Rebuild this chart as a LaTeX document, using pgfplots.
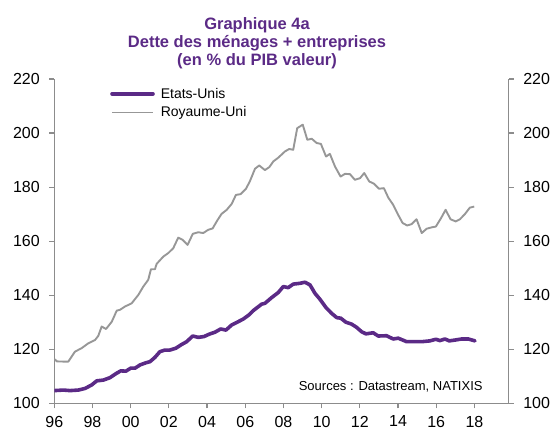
\documentclass[border=0pt]{standalone}
\usepackage{fontspec}
\setmainfont{Liberation Sans}
\usepackage{pgfplots}
\usepackage{pgfplotstable}
\pgfplotsset{compat=1.18}
\definecolor{usviolet}{HTML}{5B2A86}
\definecolor{ukgray}{HTML}{979797}
\definecolor{axisgray}{HTML}{8C8C8C}

% Etats-Unis, % du PIB
\pgfplotstableread{
year val
1996.00 104.7
1996.47 104.9
1996.82 104.7
1997.26 104.9
1997.61 105.5
1997.96 106.8
1998.22 108.3
1998.57 108.6
1998.92 109.5
1999.21 110.9
1999.48 112.0
1999.75 111.9
2000.00 113.0
2000.23 113.0
2000.49 114.2
2000.80 115.0
2001.01 115.4
2001.27 117.0
2001.53 119.1
2001.79 119.7
2002.05 119.7
2002.37 120.4
2002.63 121.6
2002.93 122.8
2003.25 124.9
2003.54 124.4
2003.84 124.7
2004.12 125.6
2004.41 126.3
2004.71 127.5
2004.99 127.1
2005.29 129.0
2005.63 130.2
2005.90 131.2
2006.21 132.8
2006.42 134.3
2006.86 136.7
2007.03 137.0
2007.38 139.1
2007.73 141.0
2007.99 143.2
2008.25 142.8
2008.51 144.1
2008.86 144.4
2009.13 144.8
2009.39 143.8
2009.65 140.7
2009.91 138.5
2010.23 135.4
2010.52 133.3
2010.79 131.7
2011.00 131.5
2011.27 130.0
2011.57 129.3
2011.83 128.1
2012.09 126.5
2012.32 125.7
2012.70 126.1
2012.96 124.9
2013.40 125.0
2013.75 123.8
2014.01 124.1
2014.45 122.8
2014.80 122.8
2015.24 122.8
2015.67 123.1
2015.98 123.7
2016.19 123.2
2016.46 123.8
2016.68 123.1
2016.98 123.4
2017.33 123.8
2017.68 123.8
2018.03 123.1
}\usdata

% Royaume-Uni
\pgfplotstableread{
year val
1996.00 116.4
1996.14 115.5
1996.73 115.4
1997.08 119.1
1997.43 120.4
1997.78 122.2
1998.13 123.4
1998.30 124.9
1998.48 128.4
1998.71 127.5
1999.01 130.2
1999.27 134.3
1999.44 134.6
1999.70 135.8
2000.05 137.0
2000.40 140.1
2000.66 143.2
2000.92 145.7
2001.06 149.6
2001.27 149.6
2001.36 151.6
2001.71 154.3
2001.97 155.6
2002.23 157.4
2002.49 161.3
2002.72 160.5
2002.98 158.6
2003.25 162.7
2003.54 163.3
2003.80 163.0
2004.06 164.2
2004.29 164.7
2004.53 167.6
2004.76 170.1
2005.03 171.6
2005.29 173.8
2005.51 177.1
2005.76 177.4
2006.04 179.4
2006.25 182.3
2006.51 186.8
2006.73 188.0
2007.03 186.3
2007.26 187.4
2007.47 189.5
2007.73 190.9
2008.08 193.2
2008.30 194.1
2008.51 193.8
2008.72 201.8
2009.01 203.1
2009.25 197.5
2009.48 197.9
2009.74 196.3
2009.96 196.0
2010.23 191.3
2010.43 192.3
2010.70 187.6
2010.99 183.9
2011.22 184.9
2011.48 184.8
2011.74 182.7
2012.01 183.3
2012.23 185.2
2012.49 182.1
2012.75 181.2
2013.00 179.4
2013.26 179.6
2013.49 176.1
2013.75 173.4
2014.01 169.7
2014.24 166.7
2014.48 165.8
2014.71 166.3
2014.97 168.1
2015.24 163.0
2015.50 164.6
2015.76 165.1
2015.98 165.4
2016.25 168.5
2016.49 171.6
2016.75 168.1
2017.02 167.3
2017.24 168.1
2017.50 170.0
2017.76 172.4
2017.99 172.8
}\ukdata

\begin{document}
\begin{tikzpicture}[x=1pt,y=1pt]
\useasboundingbox (0,0) rectangle (554,432);
\node[font=\fontsize{16.5}{18}\selectfont\bfseries, text=usviolet, align=center]
  at (257,389) {Graphique 4a\\Dette des ménages + entreprises\\(en \% du PIB valeur)};

\pgfplotsset{
  common/.style={
    at={(54.3pt,28.7pt)}, anchor=south west,
    scale only axis, width=454.5pt, height=324.3pt,
    xmin=1996, xmax=2019.8, ymin=100, ymax=220,
    axis line style={axisgray, line width=1.2pt},
    tick style={axisgray, line width=1.2pt},
    tick align=outside, major tick length=5pt,
    ytick={100,120,...,220},
    ticklabel style={font=\fontsize{16}{18}\selectfont},
    /pgf/number format/assume math mode=true,
  }
}

\begin{axis}[common,
  axis x line*=bottom, axis y line*=left,
  xtick={1996,1998,...,2018},
  xticklabels={96,98,00,02,04,06,08,10,12,14,16,18},
  xticklabel style={yshift=-4pt},
  yticklabel style={xshift=-6pt},
  legend style={at={(0.116,0.985)}, anchor=north west, draw=none, fill=none,
    font=\fontsize{14}{16}\selectfont, row sep=3pt,
    nodes={inner xsep=6pt}},
  legend cell align=left,
  legend image code/.code={\draw[#1] (0pt,0pt) -- (41pt,0pt);},
]
\addplot[usviolet, line width=3.6pt, line join=round, line cap=round] table[x=year,y=val] {\usdata};
\addlegendentry{Etats-Unis}
\addplot[ukgray, line width=1.9pt, line join=round] table[x=year,y=val] {\ukdata};
\addlegendentry{Royaume-Uni}
\node[anchor=base east, font=\fontsize{13}{15}\selectfont] at (rel axis cs:0.95,0.041) {Sources : Datastream, NATIXIS};
\end{axis}

\begin{axis}[common,
  axis y line*=right, axis x line=none,
  yticklabel style={xshift=6pt},
]
\end{axis}
\end{tikzpicture}
\end{document}
